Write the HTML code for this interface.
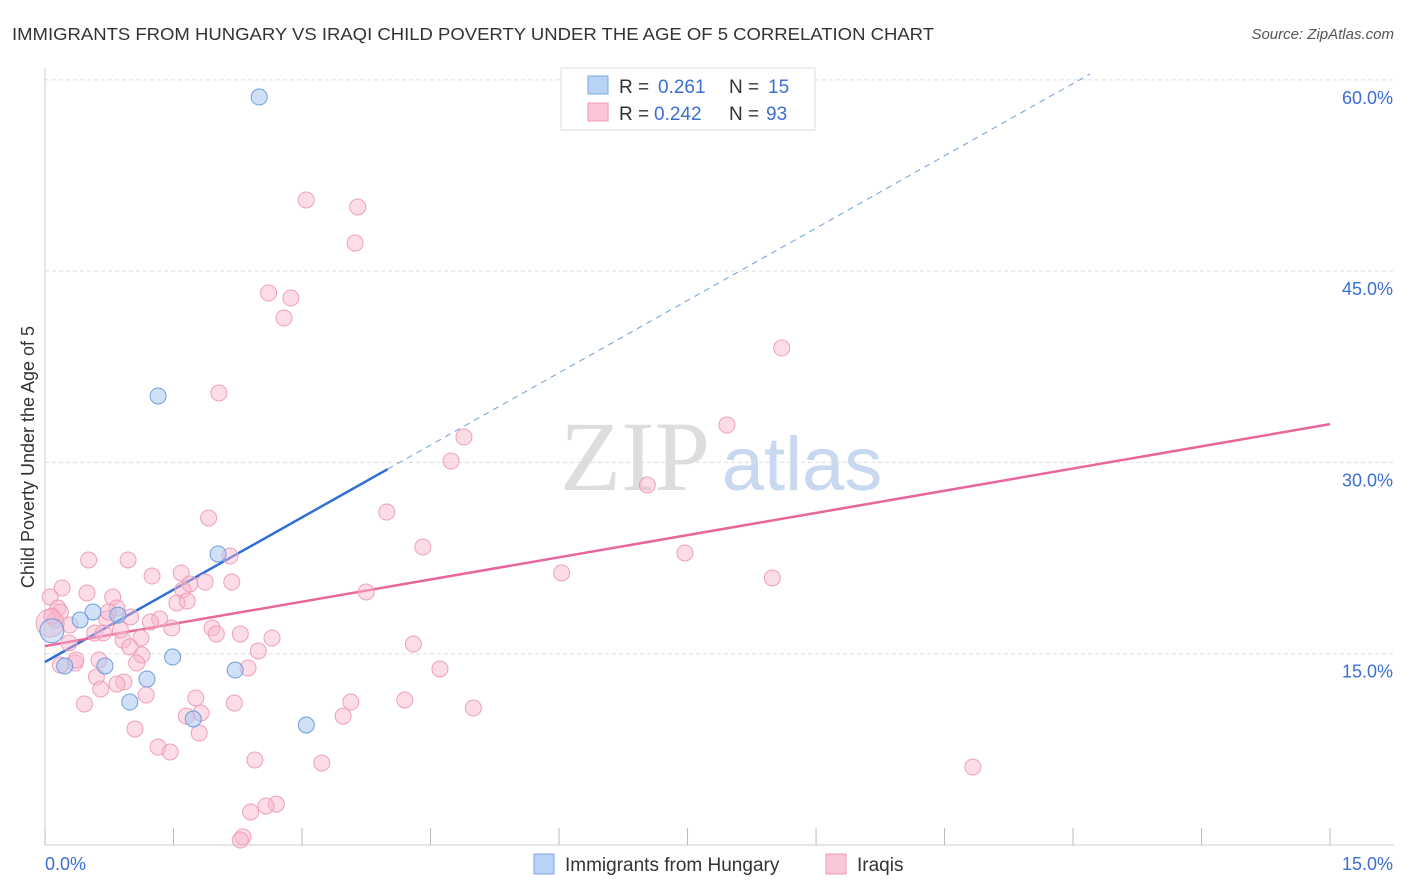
<!DOCTYPE html>
<html><head><meta charset="utf-8"><style>
body{margin:0;background:#fff;font-family:"Liberation Sans",sans-serif;}
svg{display:block}
</style></head><body>
<svg id="chart" width="1406" height="892">
<text x="12" y="40" font-size="17.5" fill="#333" textLength="922" lengthAdjust="spacingAndGlyphs">IMMIGRANTS FROM HUNGARY VS IRAQI CHILD POVERTY UNDER THE AGE OF 5 CORRELATION CHART</text>
<text x="1394" y="39" font-size="15" fill="#555" font-style="italic" text-anchor="end">Source: ZipAtlas.com</text>
<text x="0" y="0" transform="translate(34,457) rotate(-90)" font-size="18" fill="#333" text-anchor="middle">Child Poverty Under the Age of 5</text>
<g>
<text x="635" y="490" font-size="100" fill="#ddd" font-family="Liberation Serif,serif" text-anchor="middle">ZIP</text>
<text x="802" y="490" font-size="76" fill="#c8d8ef" text-anchor="middle">atlas</text>
</g>
<g id="grid"></g><g id="axes"></g><g id="lines"></g><g id="points"></g>
<g>
<rect x="561" y="68" width="254" height="62" fill="#fff" stroke="#ddd"/>
<rect x="588" y="76" width="20" height="18" fill="#b8d3f5" stroke="#7aa8e0"/>
<text x="619" y="93" font-size="19" fill="#333">R =</text>
<text x="658" y="93" font-size="19" fill="#3b6fd4">0.261</text>
<text x="729" y="93" font-size="19" fill="#333">N =</text>
<text x="768" y="93" font-size="19" fill="#3b6fd4">15</text>
<rect x="588" y="103" width="20" height="18" fill="#fbc7d7" stroke="#ee9ab5"/>
<text x="619" y="120" font-size="19" fill="#333">R =</text>
<text x="654" y="120" font-size="19" fill="#3b6fd4">0.242</text>
<text x="729" y="120" font-size="19" fill="#333">N =</text>
<text x="766" y="120" font-size="19" fill="#3b6fd4">93</text>
</g>
<g>
<rect x="534" y="854" width="20" height="20" fill="#b8d3f5" stroke="#7aa8e0"/>
<text x="565" y="871" font-size="19" fill="#333">Immigrants from Hungary</text>
<rect x="826" y="854" width="20" height="20" fill="#fbc7d7" stroke="#ee9ab5"/>
<text x="857" y="871" font-size="19" fill="#333">Iraqis</text>
</g>
</svg>
<script>
const yTicks=[15,30,45,60];
const yTickLabels=["15.0%","30.0%","45.0%","60.0%"];
const xTicks=[0,1.5,3,4.5,6,7.5,9,10.5,12,13.5,15];
const blueX=[2.50,1.32,2.02,0.56,0.41,0.85,1.49,0.70,0.23,1.19,2.22,0.99,1.73,3.05];
const blueY=[58.65,35.21,22.82,18.27,17.64,18.03,14.74,14.04,14.04,13.02,13.72,11.21,9.88,9.41];
const pinkX=[3.05,3.65,3.62,2.61,2.87,2.79,8.60,2.03,7.96,4.89,4.74,7.03,3.99,1.91,4.41,7.47,0.51,0.97,2.16,6.03,8.49,1.25,1.59,3.75,0.20,0.49,1.69,1.61,0.79,1.54,0.84,0.06,1.00,1.34,0.72,1.23,0.12,1.48,1.95,0.88,2.28,2.00,2.65,1.12,0.91,0.28,4.30,2.49,1.13,0.63,0.35,1.07,2.37,4.61,0.60,0.92,0.65,1.18,1.76,3.57,4.20,0.46,2.21,5.00,1.82,1.65,3.48,1.05,1.80,1.32,1.46,2.45,3.23,10.83,2.70,2.58,2.40,2.31,2.28,0.15,0.18,0.29,0.58,0.74,0.99,1.87,1.66,2.18,0.84,0.18,0.36,0.68,0.08];
const pinkY=[50.58,50.03,47.20,43.28,42.89,41.32,38.97,35.44,32.93,31.99,30.11,28.23,26.11,25.64,23.37,22.90,22.35,22.35,22.66,21.33,20.94,21.09,21.33,19.84,20.15,19.76,20.47,20.00,19.45,18.98,18.58,19.45,17.88,17.72,17.72,17.49,17.64,17.02,17.02,16.86,16.55,16.55,16.23,16.23,16.07,15.84,15.76,15.21,14.90,14.51,14.27,14.27,13.88,13.80,13.17,12.78,12.23,11.76,11.53,11.21,11.37,11.06,11.13,10.74,10.35,10.11,10.11,9.10,8.78,7.68,7.29,6.67,6.43,6.12,3.21,3.06,2.59,0.63,0.39,18.58,18.27,17.25,16.62,18.27,15.53,20.62,19.13,20.62,12.62,14.11,14.51,16.62,17.96];
const bigBlue=[0.08,16.8];
const bigPink=[0.06,17.4];
const blueLine=[14.35,3.78], blueSolidEnd=4.0, blueDashEnd=12.2;
const pinkLine=[15.6,1.16];
const sx=v=>45+v*85.67, sy=v=>845-v*12.753;
const NS="http://www.w3.org/2000/svg";
function mk(p,t,a){const e=document.createElementNS(NS,t);for(const k in a)e.setAttribute(k,a[k]);p.appendChild(e);return e;}
const grid=document.getElementById('grid'),axes=document.getElementById('axes'),lines=document.getElementById('lines'),pts=document.getElementById('points');
yTicks.forEach((t,i)=>{const l=mk(grid,'line',{x1:45,x2:1394,y1:sy(t),y2:sy(t),stroke:'#ddd','stroke-dasharray':'4,3'});


const tx=mk(axes,'text',{x:1393,y:sy(t)+24,'font-size':18,fill:'#3b6fd4','text-anchor':'end'});tx.textContent=yTickLabels[i];

});
const ax=mk(axes,'line',{x1:45,x2:1394,y1:845,y2:845,stroke:'#ccc'});


const ay=mk(axes,'line',{x1:45,x2:45,y1:68,y2:845,stroke:'#ccc'});


xTicks.forEach(t=>{const l=mk(axes,'line',{x1:sx(t),x2:sx(t),y1:828,y2:845,stroke:'#bbb'});

});
const xl0=mk(axes,'text',{x:45,y:870,'font-size':18,fill:'#3b6fd4'});xl0.textContent='0.0%';


const xl1=mk(axes,'text',{x:1393,y:870,'font-size':18,fill:'#3b6fd4','text-anchor':'end'});xl1.textContent='15.0%';


function dot(x,y,r,f,s,n){const c=mk(pts,'circle',{cx:sx(x),cy:sy(y),r:r,fill:f,stroke:s,'stroke-width':1});

}
pinkX.forEach((x,i)=>dot(x,pinkY[i],8,'rgba(248,180,202,0.45)','#eea0ba','iraqi-point'));
blueX.forEach((x,i)=>dot(x,blueY[i],8,'rgba(170,200,240,0.55)','#6e9ddc','hungary-point'));
dot(bigPink[0],bigPink[1],14,'rgba(248,180,202,0.45)','#eea0ba','iraqi-point-large');
dot(bigBlue[0],bigBlue[1],12,'rgba(170,200,240,0.45)','#6e9ddc','hungary-point-large');
const lb=blueLine,lp=pinkLine;
const b1=mk(lines,'line',{x1:sx(0),y1:sy(lb[0]),x2:sx(blueSolidEnd),y2:sy(lb[0]+lb[1]*blueSolidEnd),stroke:'#2f6fd6','stroke-width':2.5});


const b2=mk(lines,'line',{x1:sx(blueSolidEnd),y1:sy(lb[0]+lb[1]*blueSolidEnd),x2:sx(blueDashEnd),y2:sy(lb[0]+lb[1]*blueDashEnd),stroke:'#6e9ddc','stroke-width':1,'stroke-dasharray':'6,5'});


const p1=mk(lines,'line',{x1:sx(0),y1:sy(lp[0]),x2:sx(15),y2:sy(lp[0]+lp[1]*15),stroke:'#e8669a','stroke-width':2.5});


</script>
</body></html>
